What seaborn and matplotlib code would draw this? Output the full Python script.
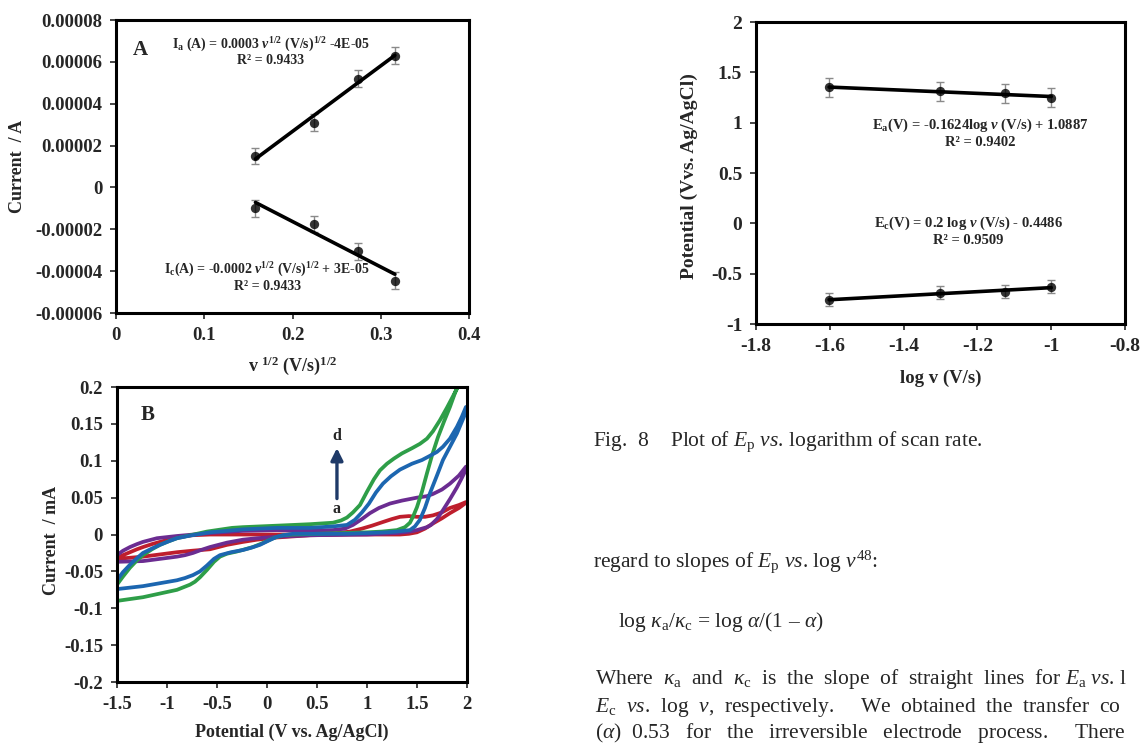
import matplotlib
matplotlib.use("Agg")
import matplotlib.pyplot as plt
import numpy as np
import pandas as pd
import seaborn as sns


# --- panel A: peak current vs square root of scan rate ---
SQRT_RATE = [0.158, 0.224, 0.274, 0.316]
I_ANODIC = [1.5e-5, 3.1e-5, 5.2e-5, 6.3e-5]
I_CATHODIC = [-1.0e-5, -1.75e-5, -3.05e-5, -4.45e-5]
I_ERR = [0.4e-5, 0.4e-5, 0.4e-5, 0.4e-5]
A_XTICKS = [0, 0.1, 0.2, 0.3, 0.4]
A_XTICKLABELS = ["0", "0.1", "0.2", "0.3", "0.4"]
A_YTICKS = [-0.00006, -0.00004, -0.00002, 0, 0.00002, 0.00004, 0.00006, 0.00008]
A_YTICKLABELS = ["-0.00006", "-0.00004", "-0.00002", "0", "0.00002", "0.00004", "0.00006", "0.00008"]

# --- panel B: cyclic voltammograms a-d (forward branch, then reverse branch) ---
CV_LABELS = ["a", "b", "c", "d"]
CV_COLORS = ["#BE1E2D", "#6B2C91", "#1C66B0", "#2E9E48"]

CV_A_E = [-1.5, -1.44, -1.37, -1.3, -1.24, -1.15, -1.07, -0.9, -0.75, -0.57, 0.0, 0.43, 0.7, 0.83, 0.95, 1.05,
          1.16, 1.25, 1.33, 1.42, 1.5, 1.58, 1.66, 1.75, 1.83, 1.92, 1.99,
          1.99, 1.92, 1.83, 1.75, 1.66, 1.58, 1.5, 1.42, 1.33, 0.83, 0.43, 0.1, -0.1, -0.24, -0.4, -0.57,
          -0.75, -0.9, -1.07, -1.24, -1.5]
CV_A_I = [-0.032, -0.028, -0.024, -0.020, -0.017, -0.013, -0.010, -0.004, -0.001, 0.0, 0.0, 0.0, 0.002, 0.004, 0.008, 0.012,
          0.017, 0.021, 0.024, 0.025, 0.024, 0.024, 0.026, 0.030, 0.036, 0.040, 0.044,
          0.043, 0.036, 0.029, 0.022, 0.015, 0.008, 0.003, 0.001, 0.0, 0.0, -0.001, -0.004, -0.007, -0.010, -0.014, -0.020,
          -0.022, -0.024, -0.027, -0.030, -0.033]

CV_B_E = [-1.5, -1.44, -1.37, -1.3, -1.24, -1.1, -0.9, -0.57, -0.24, 0.1, 0.43, 0.66, 0.78, 0.86, 0.95, 1.03,
          1.12, 1.23, 1.35, 1.5, 1.6, 1.66, 1.75, 1.83, 1.92, 1.99,
          1.99, 1.95, 1.9, 1.83, 1.76, 1.7, 1.64, 1.6, 1.5, 1.43, 1.3, 1.0, 0.43, 0.1, -0.1, -0.24, -0.4,
          -0.57, -0.66, -0.74, -0.82, -0.9, -1.07, -1.24, -1.5]
CV_B_I = [-0.028, -0.022, -0.017, -0.013, -0.010, -0.005, -0.002, 0.002, 0.005, 0.006, 0.005, 0.006, 0.008, 0.013, 0.021, 0.029,
          0.036, 0.042, 0.046, 0.050, 0.052, 0.055, 0.061, 0.069, 0.080, 0.092,
          0.088, 0.077, 0.064, 0.048, 0.033, 0.021, 0.013, 0.010, 0.006, 0.004, 0.002, 0.0, -0.001, -0.003, -0.005, -0.007, -0.011,
          -0.017, -0.021, -0.025, -0.028, -0.030, -0.033, -0.036, -0.037]

CV_C_E = [-1.5, -1.44, -1.37, -1.3, -1.24, -1.15, -1.07, -0.98, -0.9, -0.75, -0.57, -0.4, -0.24, 0.1, 0.43, 0.66,
          0.8, 0.88, 0.95, 1.02, 1.09, 1.16, 1.24, 1.33, 1.45, 1.55, 1.62, 1.7, 1.76, 1.83, 1.9, 1.95, 1.99,
          1.99, 1.94, 1.9, 1.83, 1.76, 1.7, 1.63, 1.58, 1.53, 1.48, 1.43, 1.3, 1.2, 0.8, 0.4, 0.26, 0.16, 0.1,
          0.02, -0.07, -0.16, -0.24, -0.36, -0.47, -0.53, -0.6, -0.67, -0.74, -0.82, -0.9, -1.07, -1.24, -1.5]
CV_C_I = [-0.062, -0.051, -0.041, -0.032, -0.025, -0.019, -0.014, -0.009, -0.005, -0.001, 0.003, 0.005, 0.007, 0.009, 0.009, 0.011,
          0.013, 0.020, 0.030, 0.042, 0.057, 0.069, 0.079, 0.088, 0.096, 0.101, 0.106, 0.112, 0.119, 0.130, 0.146, 0.160, 0.173,
          0.166, 0.150, 0.137, 0.119, 0.101, 0.080, 0.056, 0.036, 0.020, 0.011, 0.006, 0.004, 0.003, 0.001, 0.001, 0.001, -0.001, -0.003,
          -0.008, -0.014, -0.018, -0.021, -0.024, -0.028, -0.033, -0.042, -0.050, -0.055, -0.059, -0.062, -0.066, -0.070, -0.074]

CV_D_E = [-1.5, -1.44, -1.37, -1.3, -1.24, -1.15, -1.07, -0.98, -0.9, -0.8, -0.7, -0.6, -0.5, -0.35, -0.24, 0.1,
          0.43, 0.66, 0.74, 0.8, 0.86, 0.93, 1.0, 1.07, 1.13, 1.2, 1.27, 1.35, 1.45, 1.53, 1.6, 1.66, 1.73, 1.8, 1.87, 1.93,
          1.91, 1.87, 1.83, 1.77, 1.71, 1.65, 1.6, 1.55, 1.5, 1.46, 1.43, 1.38, 1.3, 1.15, 1.0, 0.5, 0.25, 0.16,
          0.08, 0.03, -0.05, -0.14, -0.22, -0.3, -0.4, -0.47, -0.53, -0.6, -0.67, -0.72, -0.77, -0.9, -1.07, -1.24, -1.5]
CV_D_I = [-0.068, -0.057, -0.045, -0.035, -0.028, -0.020, -0.014, -0.009, -0.005, -0.002, 0.001, 0.004, 0.006, 0.009, 0.010, 0.012,
          0.014, 0.016, 0.019, 0.023, 0.030, 0.040, 0.058, 0.075, 0.087, 0.096, 0.103, 0.110, 0.117, 0.123, 0.130, 0.140, 0.155, 0.172, 0.190, 0.205,
          0.203, 0.188, 0.173, 0.153, 0.132, 0.107, 0.083, 0.058, 0.037, 0.024, 0.016, 0.010, 0.006, 0.004, 0.003, 0.001, 0.0, -0.001,
          -0.004, -0.007, -0.012, -0.017, -0.020, -0.023, -0.026, -0.030, -0.037, -0.048, -0.058, -0.064, -0.068, -0.075, -0.080, -0.085, -0.090]

B_XTICKS = [-1.5, -1, -0.5, 0, 0.5, 1, 1.5, 2]
B_XTICKLABELS = ["-1.5", "-1", "-0.5", "0", "0.5", "1", "1.5", "2"]
B_YTICKS = [-0.2, -0.15, -0.1, -0.05, 0, 0.05, 0.1, 0.15, 0.2]
B_YTICKLABELS = ["-0.2", "-0.15", "-0.1", "-0.05", "0", "0.05", "0.1", "0.15", "0.2"]

# --- panel C: peak potential vs log scan rate ---
LOG_RATE = [-1.602, -1.301, -1.125, -1.0]
E_ANODIC = [1.35, 1.31, 1.29, 1.25]
E_CATHODIC = [-0.76, -0.69, -0.68, -0.63]
E_ANODIC_ERR = [0.09, 0.09, 0.09, 0.09]
E_CATHODIC_ERR = [0.065, 0.065, 0.065, 0.065]
C_XTICKS = [-1.8, -1.6, -1.4, -1.2, -1.0, -0.8]
C_XTICKLABELS = ["-1.8", "-1.6", "-1.4", "-1.2", "-1", "-0.8"]
C_YTICKS = [-1, -0.5, 0, 0.5, 1, 1.5, 2]
C_YTICKLABELS = ["-1", "-0.5", "0", "0.5", "1", "1.5", "2"]

ERR_COLOR = "#8a8a8a"


def _style_axes(ax, labelsize=13.5):
    for side in ["left", "right", "top", "bottom"]:
        ax.spines[side].set_visible(True)
        ax.spines[side].set_linewidth(2.2)
        ax.spines[side].set_color("black")
    ax.tick_params(axis="both", direction="out", length=4, width=1.2, labelsize=labelsize,
                   top=False, right=False, left=True, bottom=True, pad=6)
    ax.grid(False)


def _fit_with_errors(ax, x, y, err):
    ax.errorbar(x, y, yerr=err, fmt="none", ecolor=ERR_COLOR, elinewidth=1.0, capsize=3, capthick=1.0, zorder=2)
    sns.regplot(x=np.array(x), y=np.array(y), ax=ax, ci=None, truncate=True,
                scatter_kws={"color": "black", "s": 45, "zorder": 4, "linewidths": 0},
                line_kws={"color": "black", "linewidth": 2.6, "zorder": 3})


def plot_panel_a(fig):
    ax = fig.add_axes([0.1018, 0.5793, 0.3096, 0.3938])
    _fit_with_errors(ax, SQRT_RATE, I_ANODIC, I_ERR)
    _fit_with_errors(ax, SQRT_RATE, I_CATHODIC, I_ERR)
    ax.set_xlim(0, 0.4)
    ax.set_ylim(-0.00006, 0.00008)
    ax.set_xticks(A_XTICKS)
    ax.set_xticklabels(A_XTICKLABELS)
    ax.set_yticks(A_YTICKS)
    ax.set_yticklabels(A_YTICKLABELS)
    ax.set_xlabel(r"v $^{\mathbf{1/2}}$ (V/s)$^{\mathbf{1/2}}$", fontsize=13)
    ax.set_ylabel("Current  / A", fontsize=13)
    ax.xaxis.set_label_coords(0.5, -0.14)
    ax.yaxis.set_label_coords(-0.255, 0.5)
    ax.text(0.068, 0.898, "A", transform=ax.transAxes, fontsize=15, ha="center", va="center")
    ax.text(0.439, 0.915, r"I$_\mathbf{a}$ (A) = 0.0003 $\mathbfit{v}^{\mathbf{1/2}}$ (V/s)$^{\mathbf{1/2}}$ -4E-05",
            transform=ax.transAxes, fontsize=10, ha="center", va="center")
    ax.text(0.439, 0.862, "R² = 0.9433", transform=ax.transAxes, fontsize=10, ha="center", va="center")
    ax.text(0.428, 0.147, r"I$_\mathbf{c}$(A) = -0.0002 $\mathbfit{v}^{\mathbf{1/2}}$ (V/s)$^{\mathbf{1/2}}$ + 3E-05",
            transform=ax.transAxes, fontsize=10, ha="center", va="center")
    ax.text(0.428, 0.092, "R² = 0.9433", transform=ax.transAxes, fontsize=10, ha="center", va="center")
    _style_axes(ax)


def plot_panel_b(fig):
    ax = fig.add_axes([0.1026, 0.0833, 0.3070, 0.3965])
    frames = []
    for label, e, i in [("a", CV_A_E, CV_A_I), ("b", CV_B_E, CV_B_I), ("c", CV_C_E, CV_C_I), ("d", CV_D_E, CV_D_I)]:
        frames.append(pd.DataFrame({"E": e, "I": i, "curve": label}))
    cv = pd.concat(frames, ignore_index=True)
    palette = dict(zip(CV_LABELS, CV_COLORS))
    sns.lineplot(data=cv, x="E", y="I", hue="curve", palette=palette, sort=False, estimator=None,
                 linewidth=2.7, legend=False, ax=ax, hue_order=["a", "b", "d", "c"])
    for line in ax.get_lines():
        line.set_solid_joinstyle("round")
        line.set_solid_capstyle("round")
    ax.set_xlim(-1.5, 2)
    ax.set_ylim(-0.2, 0.2)
    ax.set_xticks(B_XTICKS)
    ax.set_xticklabels(B_XTICKLABELS)
    ax.set_yticks(B_YTICKS)
    ax.set_yticklabels(B_YTICKLABELS)
    ax.set_xlabel("Potential (V vs. Ag/AgCl)", fontsize=13)
    ax.set_ylabel("Current  / mA", fontsize=13)
    ax.xaxis.set_label_coords(0.5, -0.14)
    ax.yaxis.set_label_coords(-0.163, 0.48)
    ax.text(0.089, 0.905, "B", transform=ax.transAxes, fontsize=15, ha="center", va="center")
    ax.annotate("", xy=(0.70, 0.121), xytext=(0.70, 0.045),
                arrowprops=dict(arrowstyle="-|>", color="#1F3A68", lw=2.4, mutation_scale=18))
    ax.text(0.70, 0.133, "d", fontsize=11.5, ha="center", va="center")
    ax.text(0.70, 0.034, "a", fontsize=11.5, ha="center", va="center")
    _style_axes(ax)


def plot_panel_c(fig):
    ax = fig.add_axes([0.6632, 0.5645, 0.3237, 0.4059])
    _fit_with_errors(ax, LOG_RATE, E_ANODIC, E_ANODIC_ERR)
    _fit_with_errors(ax, LOG_RATE, E_CATHODIC, E_CATHODIC_ERR)
    ax.set_xlim(-1.8, -0.8)
    ax.set_ylim(-1, 2)
    ax.set_xticks(C_XTICKS)
    ax.set_xticklabels(C_XTICKLABELS)
    ax.set_yticks(C_YTICKS)
    ax.set_yticklabels(C_YTICKLABELS)
    ax.set_xlabel("log v (V/s)", fontsize=13.5)
    ax.set_ylabel("Potential (Vvs. Ag/AgCl)", fontsize=14)
    ax.xaxis.set_label_coords(0.5, -0.15)
    ax.yaxis.set_label_coords(-0.157, 0.49)
    ax.text(0.607, 0.659, r"E$_\mathbf{a}$(V) = -0.1624log $\mathbfit{v}$ (V/s) + 1.0887",
            transform=ax.transAxes, fontsize=10.5, ha="center", va="center")
    ax.text(0.607, 0.600, "R² = 0.9402", transform=ax.transAxes, fontsize=10.5, ha="center", va="center")
    ax.text(0.575, 0.334, r"E$_\mathbf{c}$(V) = 0.2 log $\mathbfit{v}$ (V/s) - 0.4486",
            transform=ax.transAxes, fontsize=10.5, ha="center", va="center")
    ax.text(0.575, 0.278, "R² = 0.9509", transform=ax.transAxes, fontsize=10.5, ha="center", va="center")
    _style_axes(ax, labelsize=14)


def page_text(fig):
    w, h = 1140.0, 744.0
    lines = [
        (593, 446, r"Fig.  8    Plot of $E_\mathrm{p}$ $vs$. logarithm of scan rate."),
        (593, 567, r"regard to slopes of $E_\mathrm{p}$ $vs$. log $v^\mathrm{48}$:"),
        (618, 627, r"log $\kappa_\mathrm{a}$/$\kappa_\mathrm{c}$ = log $\alpha$/(1 – $\alpha$)"),
        (595, 684, r"Where  $\kappa_\mathrm{a}$  and  $\kappa_\mathrm{c}$  is  the  slope  of  straight  lines  for $E_\mathrm{a}$ $vs$. l"),
        (595, 712, r"$E_\mathrm{c}$  $vs$.  log  $v$,  respectively.     We  obtained  the  transfer  co"),
        (595, 738, r"($\alpha$)  0.53   for   the   irreversible   electrode   process.     There"),
    ]
    for x, y, s in lines:
        fig.text(x / w, 1 - y / h, s, fontsize=15.5, fontweight="normal", ha="left", va="baseline")


def main():
    sns.set_theme(style="white")
    plt.rcParams["font.family"] = ["Liberation Serif", "DejaVu Serif"]
    plt.rcParams["font.weight"] = "bold"
    plt.rcParams["axes.labelweight"] = "bold"
    plt.rcParams["axes.unicode_minus"] = False
    plt.rcParams["mathtext.fontset"] = "custom"
    plt.rcParams["mathtext.rm"] = "Liberation Serif:weight=normal"
    plt.rcParams["mathtext.it"] = "Liberation Serif:style=italic:weight=normal"
    plt.rcParams["mathtext.bf"] = "Liberation Serif:weight=bold"
    plt.rcParams["mathtext.bfit"] = "Liberation Serif:style=italic:weight=bold"

    fig = plt.figure(figsize=(11.4, 7.44), dpi=100)
    plot_panel_a(fig)
    plot_panel_b(fig)
    plot_panel_c(fig)
    page_text(fig)
    fig.savefig("out.png", dpi=100, facecolor="white")
    plt.close(fig)


if __name__ == "__main__":
    main()
